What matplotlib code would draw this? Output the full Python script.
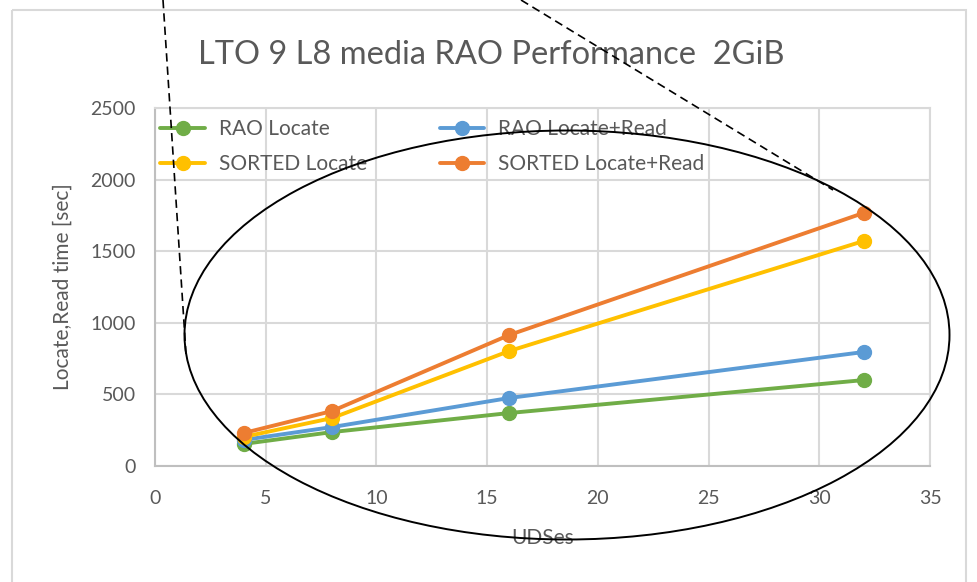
import numpy as np
import matplotlib.pyplot as plt
from matplotlib.patches import Ellipse, Rectangle

plt.rcParams['font.family'] = ['Lato', 'DejaVu Sans']

udses = [4, 8, 16, 32]
rao_locate = [154, 237, 370, 600]
rao_locate_read = [182, 272, 475, 796]
sorted_locate = [203, 335, 803, 1571]
sorted_locate_read = [230, 384, 915, 1767]

series = [
    ("RAO Locate", rao_locate, "#70AD47"),
    ("RAO Locate+Read", rao_locate_read, "#5B9BD5"),
    ("SORTED Locate", sorted_locate, "#FFC000"),
    ("SORTED Locate+Read", sorted_locate_read, "#ED7D31"),
]

txt = "#595959"
grid = "#d9d9d9"

fig = plt.figure(figsize=(9.77, 5.82), dpi=100)
ax = fig.add_axes([155 / 977, 1 - 466 / 582, 775 / 977, 358 / 582])

handles = {}
for name, vals, col in series:
    h, = ax.plot(udses, vals, color=col, lw=2.8, marker='o', ms=10,
                 solid_capstyle='round', label=name, zorder=3)
    handles[name] = h

ax.set_xlim(0, 35)
ax.set_ylim(0, 2500)
ax.set_xticks(np.arange(0, 36, 5))
ax.set_yticks(np.arange(0, 2501, 500))
ax.grid(True, color=grid, lw=1.5)
ax.set_axisbelow(True)
for s in ax.spines.values():
    s.set_color(grid)
    s.set_linewidth(1.5)
ax.spines['left'].set_color("#bfbfbf")
ax.spines['bottom'].set_color("#bfbfbf")
ax.tick_params(length=0, labelsize=14, labelcolor=txt)
ax.tick_params(axis='x', pad=17)
ax.tick_params(axis='y', pad=14)

ax.set_xlabel("UDSes", fontsize=15, color=txt)
ax.set_ylabel("Locate,Read time [sec]", fontsize=15, color=txt)
ax.xaxis.set_label_coords(0.5, -0.2)
ax.xaxis.label.set_va('center')
ax.yaxis.set_label_coords(-0.119, 0.5)
ax.yaxis.label.set_va('center')

order = ["RAO Locate", "SORTED Locate", "RAO Locate+Read", "SORTED Locate+Read"]
ax.legend([handles[n] for n in order], order, ncol=2, frameon=False,
          loc='upper left', bbox_to_anchor=(0.0, 0.983), fontsize=15,
          labelcolor=txt, handlelength=2.15, handletextpad=0.65,
          columnspacing=3.5, borderaxespad=0.0, borderpad=0.25,
          labelspacing=0.7)

fig.text(491 / 977, 1 - 55 / 582, "LTO 9 L8 media RAO Performance  2GiB",
         ha='center', va='center', fontsize=23.5, color=txt)

# overlay: chart border, callout ellipse and dashed leader lines (pixel coords)
ov = fig.add_axes([0, 0, 1, 1], zorder=10)
ov.set_xlim(0, 977)
ov.set_ylim(582, 0)
ov.axis('off')
ov.patch.set_alpha(0)
ov.add_patch(Rectangle((12, 10), 954, 600, fill=False, ec=grid, lw=1.5))
ov.add_patch(Ellipse((567, 335), 765, 409, fill=False, ec='black', lw=1.4))
ov.plot([163, 186], [0, 354], color='black', lw=1.2, ls=(0, (5, 3)))
ov.plot([521, 833], [0, 190], color='black', lw=1.2, ls=(0, (5, 3)))

fig.savefig("out.png", dpi=100)
